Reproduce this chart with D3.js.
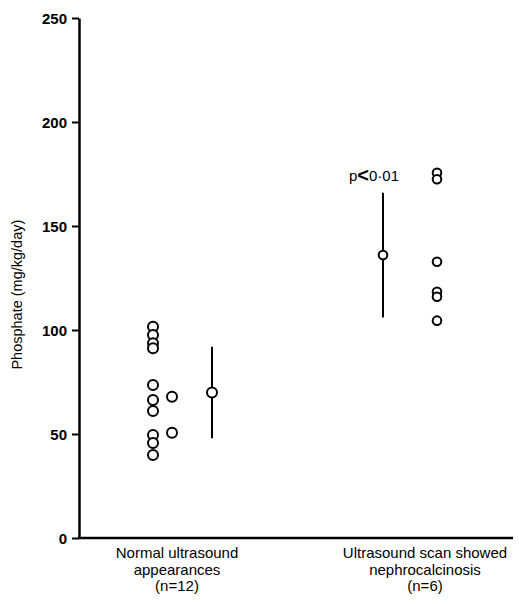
<!DOCTYPE html>
<html>
<head>
<meta charset="utf-8">
<script src="https://cdn.jsdelivr.net/npm/d3@7"></script>
<style>
    body { margin: 0; background: #fff; }
    svg { display: block; }
    text { font-family: "Liberation Sans", Arial, Helvetica, sans-serif; fill: #000; }
</style>
</head>
<body>
<div id="chart_container"></div>
<script>
'use strict';

// group labels (three lines each)
var groups = ["normal", "nephro"];
var groupLabels = [
    ["Normal ultrasound", "appearances", "(n=12)"],
    ["Ultrasound scan showed", "nephrocalcinosis", "(n=6)"]
];

// individual values
var normalValues = [101.6, 97.6, 93.6, 91.2, 73.6, 66.3, 61.1, 49.5, 45.7, 39.9, 67.9, 50.6];
var normalColumn = [0, 0, 0, 0, 0, 0, 0, 0, 0, 0, 1, 1];
var nephroValues = [175.6, 172.5, 132.8, 118.4, 116.0, 104.5];
var nephroColumn = [0, 0, 0, 0, 0, 0];

// mean and SD for each group
var groupMeans = [70, 136];
var groupSDs = [22, 30];

var yTicks = [0, 50, 100, 150, 200, 250];
var yLabel = "Phosphate (mg/kg/day)";

var width = 519;
var height = 604;
var margin = {top: 18, right: 6, bottom: 66, left: 79};

var svg = d3.select("#chart_container").append("svg")
    .attr("width", width)
    .attr("height", height);

var y = d3.scaleLinear()
    .domain([0, 250])
    .range([height - margin.bottom, margin.top]);

var x = d3.scalePoint()
    .domain(groups)
    .range([177, 425]);

// offsets inside a group (dot columns and mean bar)
var layout = {
    normal: {dots: [-24, -5], mean: 35, r: 5},
    nephro: {dots: [12], mean: -42, r: 4.3}
};

// axes
var yAxis = d3.axisLeft(y)
    .tickValues(yTicks)
    .tickSize(7)
    .tickPadding(5)
    .tickSizeOuter(0);

var gy = svg.append("g")
    .attr("transform", "translate(" + margin.left + ",0)")
    .call(yAxis);
gy.select(".domain").attr("stroke-width", 2.5);
gy.selectAll(".tick line").attr("stroke-width", 2);
gy.selectAll(".tick text")
    .style("font-size", "15px")
    .style("font-weight", "bold")
    .attr("dy", "0.36em");

svg.append("line")
    .attr("x1", margin.left - 1)
    .attr("x2", width - margin.right)
    .attr("y1", y(0))
    .attr("y2", y(0))
    .attr("stroke", "#000")
    .attr("stroke-width", 2.5);

svg.append("text")
    .attr("transform", "translate(22," + y(117) + ")rotate(-90)")
    .style("font-size", "14.5px")
    .style("text-anchor", "middle")
    .text(yLabel);

// category labels
groups.forEach(function(g, i) {
    var t = svg.append("text")
        .style("font-size", "15px")
        .style("text-anchor", "middle")
        .attr("x", x(g))
        .attr("y", y(0) + 20);
    groupLabels[i].forEach(function(line, j) {
        t.append("tspan")
            .attr("x", x(g))
            .attr("dy", j === 0 ? 0 : 16.5)
            .text(line);
    });
});

function drawGroup(g, values, columns, idx) {
    var lay = layout[g];
    svg.append("g").selectAll("circle")
        .data(values)
        .enter().append("circle")
        .attr("cx", function(d, i) { return x(g) + lay.dots[columns[i]]; })
        .attr("cy", function(d) { return y(d); })
        .attr("r", lay.r)
        .attr("fill", "#fff")
        .attr("stroke", "#000")
        .attr("stroke-width", 2);

    var mx = x(g) + lay.mean;
    svg.append("line")
        .attr("x1", mx).attr("x2", mx)
        .attr("y1", y(groupMeans[idx] + groupSDs[idx]))
        .attr("y2", y(groupMeans[idx] - groupSDs[idx]))
        .attr("stroke", "#000")
        .attr("stroke-width", 2);
    svg.append("circle")
        .attr("cx", mx)
        .attr("cy", y(groupMeans[idx]))
        .attr("r", lay.r)
        .attr("fill", "#fff")
        .attr("stroke", "#000")
        .attr("stroke-width", 2);
}

drawGroup("normal", normalValues, normalColumn, 0);
drawGroup("nephro", nephroValues, nephroColumn, 1);

// significance note
var p = svg.append("text")
    .attr("x", 349)
    .attr("y", y(171.5))
    .style("font-size", "15px");
p.append("tspan").text("p");
p.append("tspan").style("font-weight", "bold").style("font-size", "20px").attr("dy", 1).text("<");
p.append("tspan").attr("dy", -1).text("0\u00b701");
</script>
</body>
</html>
